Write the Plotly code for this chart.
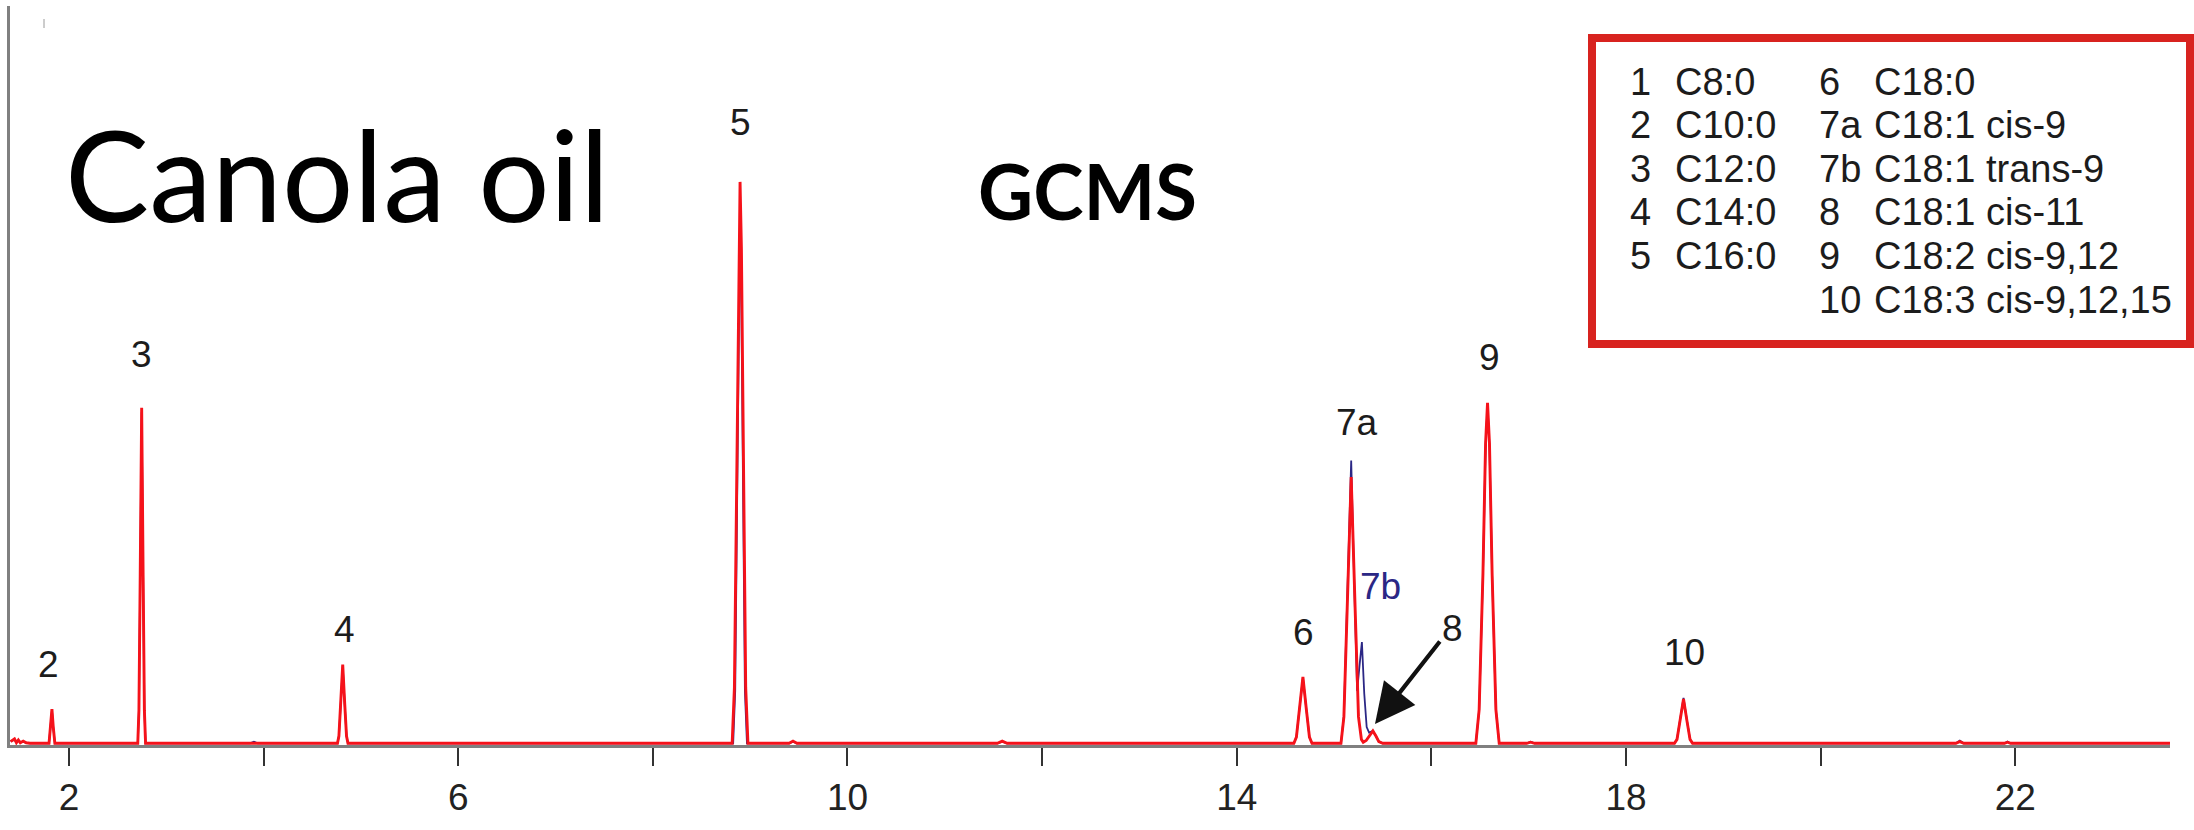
import plotly.graph_objects as go

# ---------------------------------------------------------------------------
# Chromatogram traces: retention time (min) and relative abundance (% of C16:0)
# ---------------------------------------------------------------------------
red_rt = [
    1.40, 1.44, 1.46, 1.48, 1.50, 1.53, 1.56, 1.60,                    # solvent front
    1.795, 1.812, 1.825, 1.838, 1.855,                                  # 2  C10:0
    2.707, 2.719, 2.732, 2.747, 2.762, 2.775, 2.787,                    # 3  C12:0
    4.759, 4.774, 4.792, 4.813, 4.834, 4.852, 4.867,                    # 4  C14:0
    8.815, 8.838, 8.862, 8.882, 8.896, 8.910, 8.930, 8.954, 8.977,      # 5  C16:0
    9.40, 9.44, 9.48,
    11.54, 11.59, 11.64,
    14.587, 14.613, 14.644, 14.68, 14.716, 14.747, 14.773,              # 6  C18:0
    15.071, 15.101, 15.135, 15.176, 15.217, 15.251, 15.281, 15.30,      # 7a C18:1 cis-9
    15.33, 15.37, 15.399, 15.43, 15.46, 15.50,                          # 8  C18:1 cis-11
    16.457, 16.491, 16.53, 16.557, 16.577, 16.597, 16.624, 16.663, 16.697,  # 9
    16.98, 17.02, 17.06,
    18.498, 18.524, 18.555, 18.591, 18.627, 18.658, 18.684,             # 10 C18:3
    21.39, 21.43, 21.47,
    21.89, 21.92, 21.95,
    23.59,
]
red_abund = [
    0.4, 0.9, 0.2, 0.7, 0.2, 0.5, 0.2, 0.1,
    0.1, 3.1, 6.2, 3.1, 0.1,
    0.1, 6.0, 29.9, 59.8, 29.9, 6.0, 0.1,
    0.1, 1.4, 7.0, 14.1, 7.0, 1.4, 0.1,
    0.1, 10.0, 50.0, 88.0, 100.0, 88.0, 50.0, 10.0, 0.1,
    0.1, 0.5, 0.1,
    0.1, 0.5, 0.1,
    0.1, 1.2, 6.0, 11.9, 6.0, 1.2, 0.1,
    0.1, 4.8, 23.8, 47.5, 23.8, 4.8, 0.8, 0.3,
    0.6, 1.7, 2.3, 1.4, 0.4, 0.1,
    0.1, 6.1, 30.4, 53.5, 60.7, 53.5, 30.4, 6.1, 0.1,
    0.1, 0.3, 0.1,
    0.1, 0.8, 4.0, 8.0, 4.0, 0.8, 0.1,
    0.1, 0.4, 0.1,
    0.1, 0.3, 0.1,
    0.1,
]

blue_rt = [
    1.40, 1.44, 1.46, 1.48, 1.50, 1.53, 1.56, 1.60,
    1.795, 1.812, 1.825, 1.838, 1.855,
    2.707, 2.719, 2.732, 2.747, 2.762, 2.775, 2.787,
    3.86, 3.90, 3.94,
    4.759, 4.774, 4.792, 4.813, 4.834, 4.852, 4.867,
    8.825, 8.846, 8.869, 8.885, 8.896, 8.907, 8.923, 8.946, 8.967,
    9.40, 9.44, 9.48,
    11.54, 11.59, 11.64,
    14.587, 14.613, 14.644, 14.68, 14.716, 14.747, 14.773,
    15.071, 15.101, 15.135, 15.176, 15.205, 15.225, 15.237,             # 7a
    15.262, 15.286, 15.31, 15.335, 15.36,                               # 7b C18:1 trans-9
    15.399, 15.43, 15.46, 15.50,
    16.457, 16.491, 16.53, 16.557, 16.577, 16.597, 16.624, 16.663, 16.697,
    16.98, 17.02, 17.06,
    18.498, 18.524, 18.555, 18.591, 18.627, 18.658, 18.684,
    21.39, 21.43, 21.47,
    21.89, 21.92, 21.95,
    23.59,
]
blue_abund = [
    0.5, 0.7, 0.3, 0.6, 0.3, 0.4, 0.2, 0.1,
    0.1, 3.0, 6.0, 3.0, 0.1,
    0.1, 5.9, 29.5, 59.0, 29.5, 5.9, 0.1,
    0.1, 0.4, 0.1,
    0.1, 1.4, 6.9, 13.8, 6.9, 1.4, 0.1,
    0.1, 9.4, 47.0, 83.0, 94.0, 83.0, 47.0, 9.4, 0.1,
    0.1, 0.4, 0.1,
    0.1, 0.4, 0.1,
    0.1, 1.2, 6.0, 11.8, 6.0, 1.2, 0.1,
    0.1, 5.0, 25.2, 50.4, 30.0, 15.0, 9.4,
    14.0, 18.1, 9.0, 3.0, 2.0,
    2.3, 1.4, 0.4, 0.1,
    0.1, 6.0, 30.1, 53.0, 60.2, 53.0, 30.1, 6.0, 0.1,
    0.1, 0.4, 0.1,
    0.1, 0.8, 4.1, 8.2, 4.1, 0.8, 0.1,
    0.1, 0.6, 0.1,
    0.1, 0.4, 0.1,
    0.1,
]

assert len(red_rt) == len(red_abund)
assert len(blue_rt) == len(blue_abund)

# Axis ticks
tick_vals = [2, 4, 6, 8, 10, 12, 14, 16, 18, 20, 22]
tick_text = ["2", "", "6", "", "10", "", "14", "", "18", "", "22"]

# Peak key
key_num_1 = ["1", "2", "3", "4", "5"]
key_fa_1 = ["C8:0", "C10:0", "C12:0", "C14:0", "C16:0"]
key_num_2 = ["6", "7a", "7b", "8", "9", "10"]
key_fa_2 = ["C18:0", "C18:1 cis-9", "C18:1 trans-9", "C18:1 cis-11",
            "C18:2 cis-9,12", "C18:3 cis-9,12,15"]

# Peak numbers drawn above the trace
peak_names = ["2", "3", "4", "5", "6", "7a", "7b", "8", "9", "10"]

# ---------------------------------------------------------------------------
W, H = 2194, 830
ML, MR, MT, MB = 10, 24, 6, 85
PW, PH = W - ML - MR, H - MT - MB


def fx(px):
    return (px - ML) / PW


def fy(py):
    return (H - MB - py) / PH


RED = "#f5121a"
BLUE = "#2b2785"
TXT = "#1c1c1c"
FONT = "Liberation Sans, Arial, Helvetica, sans-serif"

fig = go.Figure()
fig.add_trace(go.Scatter(x=blue_rt, y=blue_abund, mode="lines",
                         line=dict(color=BLUE, width=1.8), hoverinfo="skip"))
fig.add_trace(go.Scatter(x=red_rt, y=red_abund, mode="lines",
                         line=dict(color=RED, width=2.9), hoverinfo="skip"))

annotations = []

# Title texts
annotations.append(dict(text="Canola oil", xref="paper", yref="paper",
                        x=fx(63), y=fy(173), xanchor="left", yanchor="middle",
                        showarrow=False,
                        font=dict(family="Lato, Open Sans, sans-serif", size=126, color="#000")))
annotations.append(dict(text="<b>GCMS</b>", xref="paper", yref="paper",
                        x=fx(1087), y=fy(190), xanchor="center", yanchor="middle",
                        showarrow=False,
                        font=dict(family="Lato, Open Sans, sans-serif", size=76, color="#000")))

# Peak labels (pixel centres)
peak_label_px = [(49, 664), (141, 354), (344, 629), (740, 123), (1303, 632),
                 (1357, 422), (1380, 586), (1452, 628), (1489, 357), (1685, 652)]
for name, (px, py) in zip(peak_names, peak_label_px):
    annotations.append(dict(text=name, xref="paper", yref="paper",
                            x=fx(px), y=fy(py), xanchor="center", yanchor="middle",
                            showarrow=False,
                            font=dict(family=FONT, size=37,
                                      color=BLUE if name == "7b" else TXT)))

# Arrow pointing to peak 8
annotations.append(dict(text="", xref="paper", yref="paper",
                        x=fx(1375), y=fy(724), ax=66, ay=-84,
                        showarrow=True, arrowhead=2, arrowsize=1.9,
                        arrowwidth=4.2, arrowcolor="#111"))

# Key box text
row_y0, row_dy = 82, 43.5
for i, (n, fa) in enumerate(zip(key_num_1, key_fa_1)):
    y = fy(row_y0 + i * row_dy)
    annotations.append(dict(text=n, xref="paper", yref="paper", x=fx(1628), y=y,
                            xanchor="left", yanchor="middle", showarrow=False,
                            font=dict(family=FONT, size=38, color=TXT)))
    annotations.append(dict(text=fa, xref="paper", yref="paper", x=fx(1673), y=y,
                            xanchor="left", yanchor="middle", showarrow=False,
                            font=dict(family=FONT, size=38, color=TXT)))
for i, (n, fa) in enumerate(zip(key_num_2, key_fa_2)):
    y = fy(row_y0 + i * row_dy)
    annotations.append(dict(text=n, xref="paper", yref="paper", x=fx(1817), y=y,
                            xanchor="left", yanchor="middle", showarrow=False,
                            font=dict(family=FONT, size=38, color=TXT)))
    annotations.append(dict(text=fa, xref="paper", yref="paper", x=fx(1872), y=y,
                            xanchor="left", yanchor="middle", showarrow=False,
                            font=dict(family=FONT, size=38, color=TXT)))

shapes = [
    # key frame
    dict(type="rect", xref="paper", yref="paper",
         x0=fx(1592), x1=fx(2190), y0=fy(344), y1=fy(38),
         line=dict(color="#d8231f", width=8), fillcolor="rgba(0,0,0,0)"),
    # small mark near the top of the y axis
    dict(type="line", xref="paper", yref="paper",
         x0=fx(44), x1=fx(44), y0=fy(19), y1=fy(28),
         line=dict(color="#9a9a9a", width=1)),
]

fig.update_layout(
    width=W, height=H, autosize=False,
    margin=dict(l=ML, r=MR, t=MT, b=MB, pad=0),
    paper_bgcolor="white", plot_bgcolor="white",
    showlegend=False,
    annotations=annotations, shapes=shapes,
    xaxis=dict(range=[1.394, 23.59], showline=True, linecolor="#808080", linewidth=2.5,
               ticks="outside", ticklen=18, tickwidth=1.5, tickcolor="#333",
               tickvals=tick_vals, ticktext=tick_text,
               tickfont=dict(family=FONT, size=37, color="#222"),
               showgrid=False, zeroline=False),
    yaxis=dict(range=[-0.2, 131.3], showline=True, linecolor="#808080", linewidth=2.5,
               ticks="", showticklabels=False, showgrid=False, zeroline=False),
)

fig.write_html("out.html")
